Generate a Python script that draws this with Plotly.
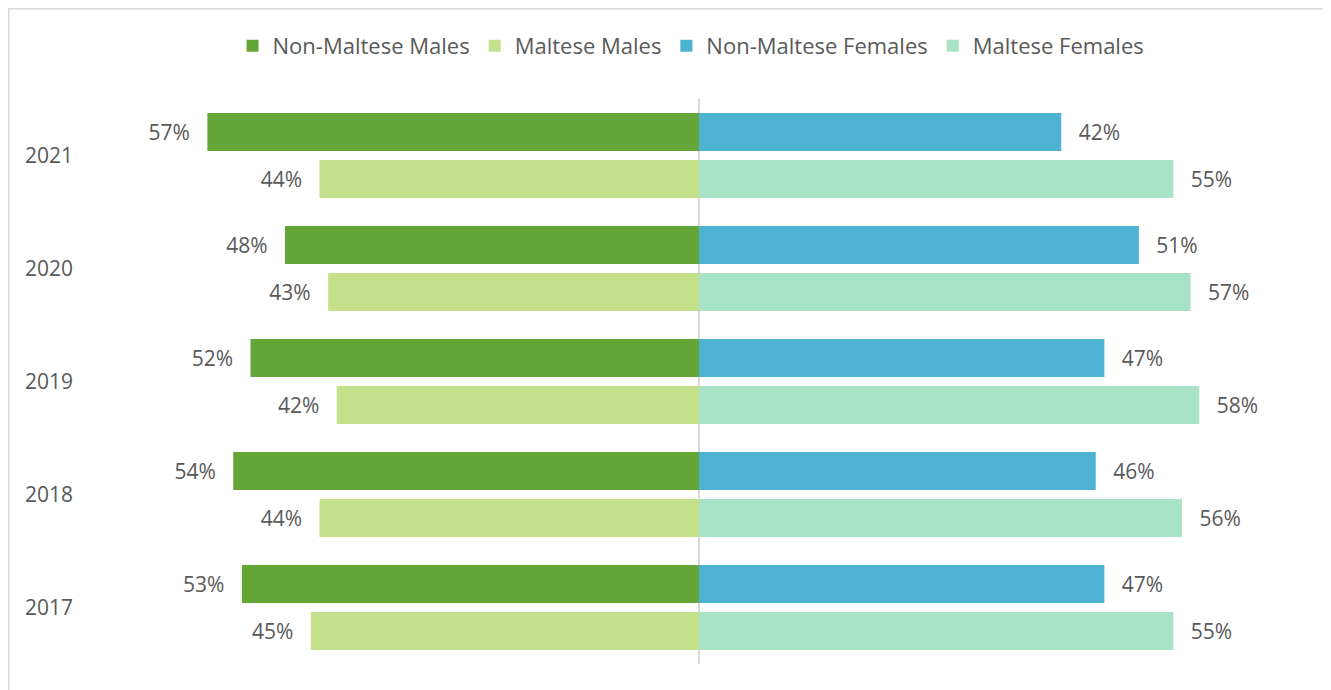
import plotly.graph_objects as go

years = ["2021", "2020", "2019", "2018", "2017"]
non_maltese_males = [57, 48, 52, 54, 53]
maltese_males = [44, 43, 42, 44, 45]
non_maltese_females = [42, 51, 47, 46, 47]
maltese_females = [55, 57, 58, 56, 55]

C_NMM = "#64A537"
C_MM = "#C5E08B"
C_NMF = "#4EB3D3"
C_MF = "#A8E3C8"
TXT = "#595959"
FONT = "Open Sans"
FS = 21
PAD = "\u00a0\u00a0\u2009"

fig = go.Figure()


def add(name, vals, color, group, side):
    if side == "left":
        xs = [-v for v in vals]
        txt = [f"{v}%{PAD}" for v in vals]
    else:
        xs = list(vals)
        txt = [f"{PAD}{v}%" for v in vals]
    fig.add_trace(go.Bar(
        y=years, x=xs, name=name, orientation="h",
        marker=dict(color=color, line=dict(width=0)),
        offsetgroup=group, text=txt, textposition="outside",
        textfont=dict(family=FONT, size=FS, color=TXT),
        cliponaxis=False, hoverinfo="skip",
    ))


add("Non-Maltese Males", non_maltese_males, C_NMM, "a", "left")
add("Maltese Males", maltese_males, C_MM, "b", "left")
add("Non-Maltese Females", non_maltese_females, C_NMF, "a", "right")
add("Maltese Females", maltese_females, C_MF, "b", "right")

fig.update_layout(
    width=1323, height=682,
    margin=dict(l=70, r=11, t=91, b=26),
    paper_bgcolor="white", plot_bgcolor="white",
    barmode="group", bargap=0.168, bargroupgap=0.19,
    font=dict(family=FONT, size=FS, color=TXT),
    showlegend=True,
    legend=dict(orientation="h", x=0.4936, xanchor="center", y=1.094, yanchor="middle",
                font=dict(family=FONT, size=22, color=TXT), traceorder="normal",
                bgcolor="rgba(0,0,0,0)"),
    xaxis=dict(range=[-72, 72], showgrid=False, showticklabels=False, ticks="",
               zeroline=True, zerolinecolor="#D9D9D9", zerolinewidth=2, fixedrange=True),
    yaxis=dict(type="category", autorange="reversed", showgrid=False, ticks="",
               ticklabelstandoff=4,
               tickfont=dict(family=FONT, size=FS, color=TXT), zeroline=False, fixedrange=True),
    shapes=[dict(type="rect", xref="paper", yref="paper",
                 x0=-69.2 / 1242, x1=1.2, y0=-0.2, y1=1 + 90.2 / 565,
                 line=dict(color="#D9D9D9", width=1.5), fillcolor="rgba(0,0,0,0)", layer="below")],
)

fig.write_html("out.html", config={"displayModeBar": False})
